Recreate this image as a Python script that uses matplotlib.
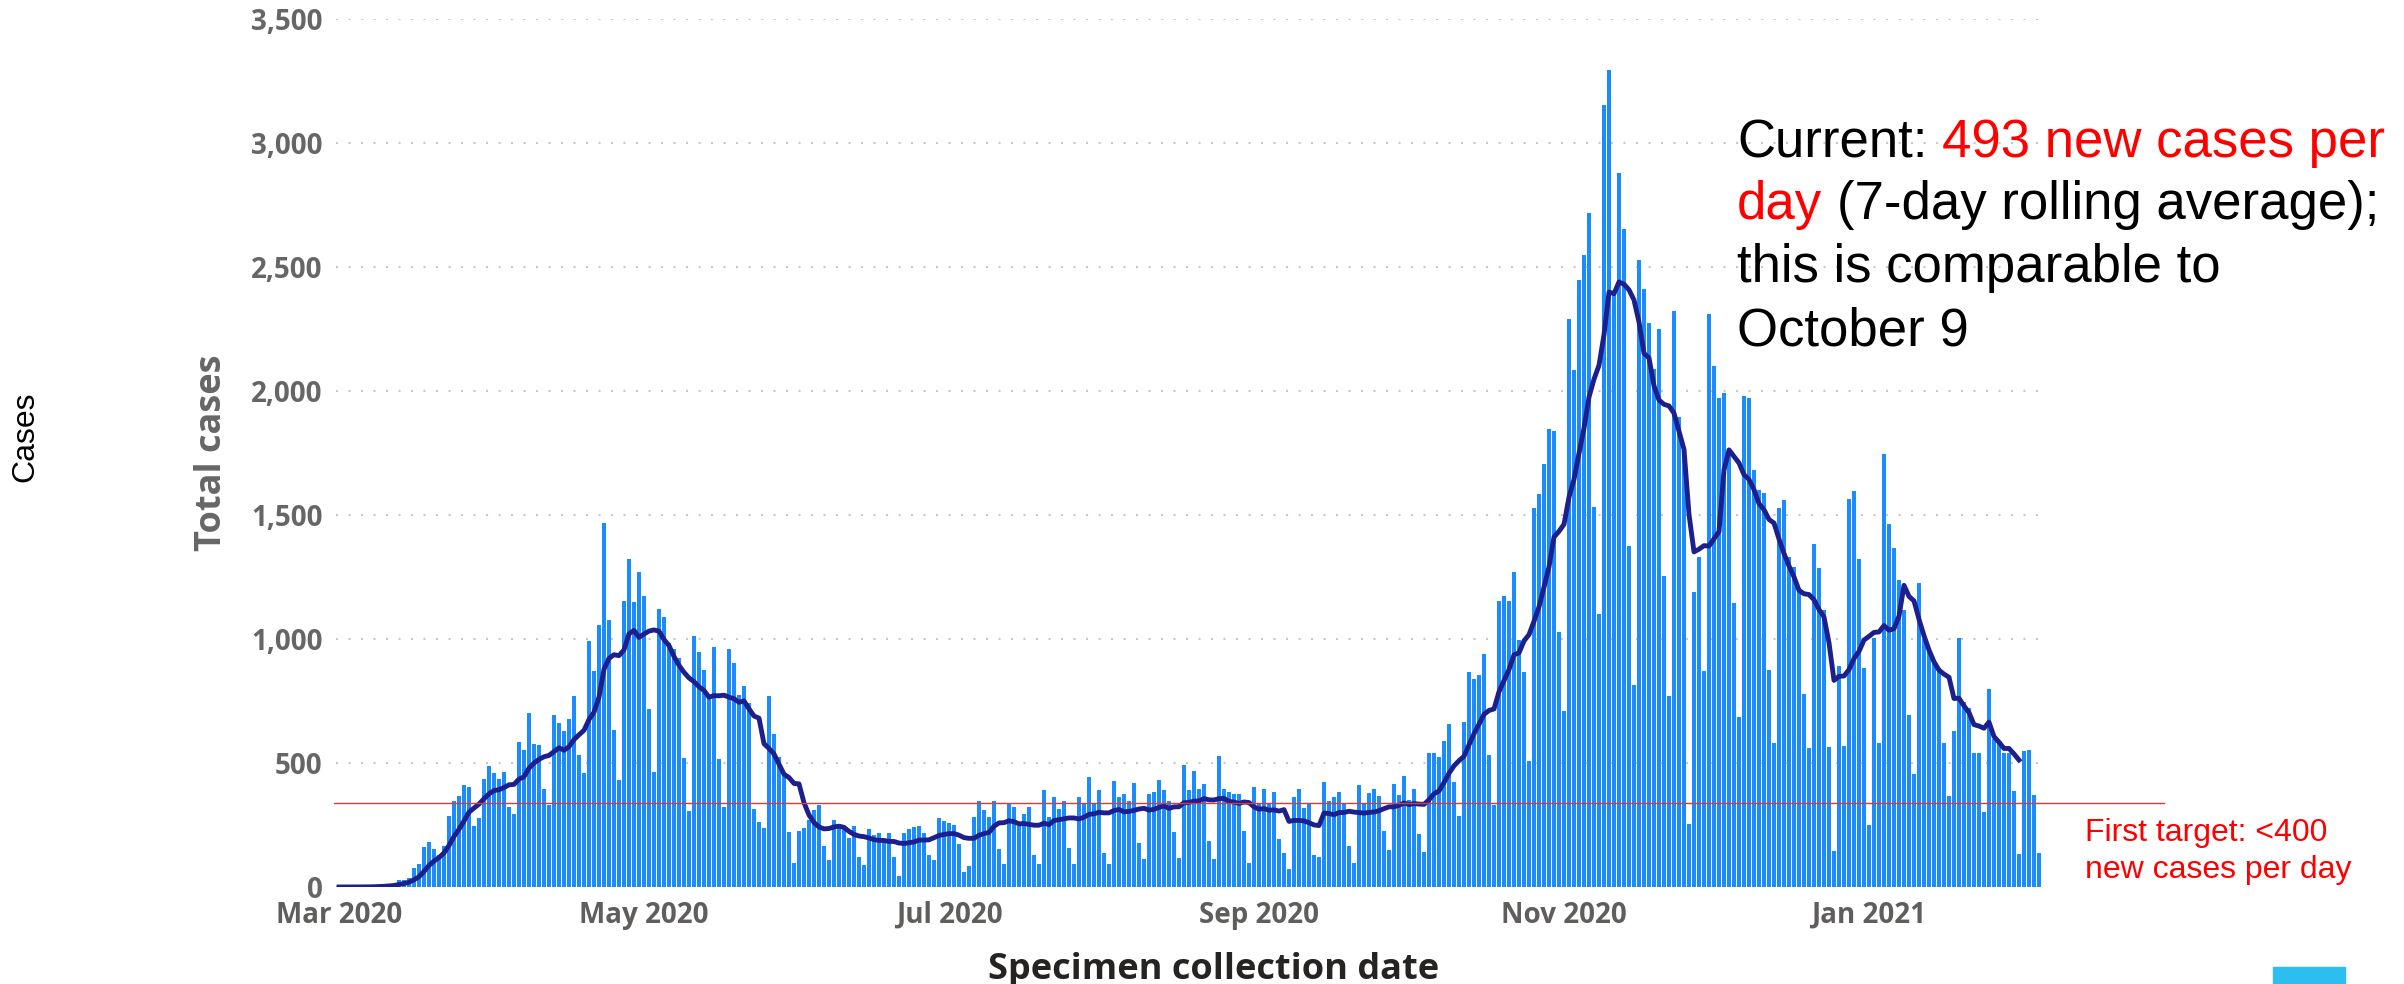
import matplotlib
matplotlib.use("Agg")
import matplotlib.pyplot as plt
import matplotlib.dates as mdates
from matplotlib.patches import Rectangle
import pandas as pd

# daily new cases by specimen collection date
mar_2020 = [0, 0, 0, 0, 1, 1, 2, 3, 5, 7, 10, 14,
            30, 30, 38, 75, 93, 160, 181, 153, 131, 167, 287, 348, 365, 411, 404, 247, 279, 437, 486]
apr_2020 = [458, 435, 465, 323, 293, 584, 553, 702, 577, 571, 396, 330, 692, 662, 630,
            678, 772, 532, 458, 993, 870, 1056, 1468, 1077, 634, 433, 1155, 1324, 1151, 1271]
may_2020 = [1172, 718, 465, 1119, 1088, 982, 961, 923, 522, 306, 1014, 946, 876, 771, 967, 517,
            323, 958, 903, 774, 811, 743, 314, 264, 236, 769, 617, 526, 457, 221, 97]
jun_2020 = [225, 236, 272, 312, 332, 167, 107, 270, 256, 240, 198, 247, 121, 89, 233,
            209, 219, 195, 219, 121, 45, 219, 233, 240, 247, 219, 128, 107, 279, 265]
jul_2020 = [260, 251, 173, 59, 86, 281, 348, 309, 284, 348, 153, 93, 334, 323, 247, 293,
            323, 131, 93, 390, 284, 362, 316, 348, 156, 93, 361, 333, 442, 334, 390]
aug_2020 = [139, 93, 428, 361, 376, 348, 418, 177, 114, 376, 383, 430, 390, 348, 221, 117,
            490, 390, 467, 397, 414, 184, 114, 528, 397, 383, 376, 376, 226, 98, 404]
sep_2020 = [334, 397, 334, 383, 193, 139, 72, 362, 396, 319, 333, 131, 121, 425, 348,
            361, 383, 333, 167, 98, 411, 333, 379, 396, 368, 226, 149, 414, 372, 446]
oct_2020 = [351, 396, 212, 142, 542, 542, 525, 588, 658, 423, 288, 664, 866, 839, 855, 939,
            532, 330, 1153, 1174, 1153, 1272, 995, 868, 510, 1527, 1586, 1704, 1846, 1837, 1029]
nov_2020 = [709, 2292, 2086, 2446, 2548, 2718, 1533, 1102, 3152, 3294, 2400, 2880, 2652, 1375, 815,
            2529, 2410, 2275, 2090, 2249, 1256, 770, 2323, 1896, 1770, 254, 1190, 1332, 870, 2311]
dec_2020 = [2102, 1972, 1991, 1760, 1147, 685, 1980, 1970, 1680, 1600, 1587, 874, 581, 1530, 1559, 1331,
            1291, 1207, 778, 559, 1383, 1285, 1118, 563, 146, 893, 568, 1563, 1596, 1322, 883]
jan_2021 = [250, 1004, 581, 1744, 1463, 1365, 1239, 1118, 693, 454, 1226, 998, 961, 906, 883, 581,
            365, 628, 1004, 744, 720, 541, 541, 304, 800, 596, 587, 541, 541, 387, 133]
feb_2021 = [550, 554, 370, 137]

month_ticks = ["2020-03-01", "2020-05-01", "2020-07-01", "2020-09-01", "2020-11-01", "2021-01-01"]
month_labels = ["Mar 2020", "May 2020", "Jul 2020", "Sep 2020", "Nov 2020", "Jan 2021"]
y_ticks = [0, 500, 1000, 1500, 2000, 2500, 3000, 3500]
target = 340
avg_end = "2021-01-31"

cases = (mar_2020 + apr_2020 + may_2020 + jun_2020 + jul_2020 + aug_2020 + sep_2020
         + oct_2020 + nov_2020 + dec_2020 + jan_2021 + feb_2021)
days = pd.date_range("2020-03-01", periods=len(cases), freq="D")
daily = pd.Series(cases, index=days)
rolling = daily.rolling(7, min_periods=1).mean()[:avg_end]

W, H = 2404, 984
fig = plt.figure(figsize=(W / 100, H / 100), dpi=100)
ax = fig.add_axes([336.5 / W, 1 - 887 / H, 1710 / W, 868 / H])

x = mdates.date2num(days)
ax.bar(x, cases, width=0.85, color="#1a8cff", zorder=2)
ax.plot(mdates.date2num(rolling.index), rolling.values, color="#1c1f8c", lw=3.5, zorder=3,
        solid_joinstyle="round")
ax.axhline(target, xmin=(334 - 336.5) / 1710, xmax=(2164 - 336.5) / 1710, color="#d93a3a",
           lw=1.0, clip_on=False, zorder=4)

ax.set_xlim(x[0] - 0.5, x[-1] + 1.5)
ax.set_ylim(0, 3500)
ax.set_xticks(mdates.date2num(pd.to_datetime(month_ticks)))
ax.set_xticklabels(month_labels)
ax.set_yticks(y_ticks)
ax.set_yticklabels([f"{v:,}" for v in y_ticks])
ax.tick_params(length=0)
ax.tick_params(axis="y", pad=10, labelsize=20, labelcolor="#666666")
ax.tick_params(axis="x", pad=10, labelsize=20, labelcolor="#605e5c")
for lab in ax.get_xticklabels() + ax.get_yticklabels():
    lab.set_family("Open Sans")
    lab.set_fontweight("bold")
ax.yaxis.grid(True, linestyle=(0, (1, 5)), color="#c8c8c8", lw=1.5)
ax.set_axisbelow(True)
for sp in ax.spines.values():
    sp.set_visible(False)

fig.text(25 / W, 1 - 437 / H, "Cases", rotation=90, ha="center", va="center",
         fontsize=23, family="Liberation Sans")
fig.text(212 / W, 1 - 453 / H, "Total cases", rotation=90, ha="center", va="center",
         fontsize=26, weight="bold", color="#666666", family="Open Sans")
fig.text(1214 / W, 1 - 970 / H, "Specimen collection date", ha="center", va="center",
         fontsize=26, weight="bold", color="#252423", family="Open Sans")

# note at the top right, some words in red
renderer = fig.canvas.get_renderer()
big = dict(fontsize=38, family="Liberation Sans", va="baseline")


def width(s, **kw):
    t = fig.text(0, 0, s, **kw)
    w = t.get_window_extent(renderer).width
    t.remove()
    return w


x0 = 1737
lines = [
    (157, [("Current:", "black"), ("493 new cases per", "red")]),
    (219, [("day", "red"), ("(7-day rolling average);", "black")]),
    (282, [("this is comparable to", "black")]),
    (345, [("October 9", "black")]),
]
for base, parts in lines:
    full = " ".join(p[0] for p in parts)
    for i, (s, c) in enumerate(parts):
        rest = " ".join(p[0] for p in parts[i:])
        off = width(full, **big) - width(rest, **big)
        fig.text((x0 + off) / W, 1 - base / H, s, color=c, **big)

small = dict(fontsize=23, family="Liberation Sans", color="red", va="baseline")
fig.text(2085 / W, 1 - 841 / H, "First target: <400", **small)
fig.text(2085 / W, 1 - 878 / H, "new cases per day", **small)

fig.patches.append(Rectangle((2273 / W, 0), 72 / W, 17 / H, transform=fig.transFigure,
                             color="#2dbef0", zorder=5))

fig.savefig("out.png", dpi=100)
